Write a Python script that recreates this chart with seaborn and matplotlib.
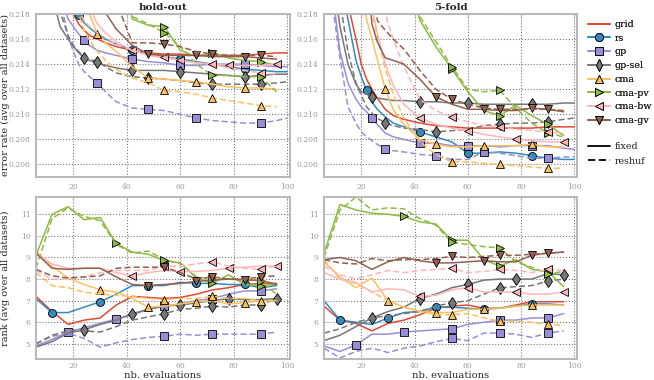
import numpy as np
import pandas as pd
import matplotlib
matplotlib.use("Agg")
import matplotlib.pyplot as plt
from matplotlib.lines import Line2D
import seaborn as sns

nan = np.nan
# ---------------- data ----------------
methods = ["grid", "rs", "gp", "gp-sel", "cma", "cma-pv", "cma-bw", "cma-gv"]
colors = ["#E24A33", "#348ABD", "#988ED5", "#777777", "#FBC15E", "#8EBA42", "#FFB5B8", "#93604F"]
marker_shapes = [None, "o", "s", "d", "^", ">", "<", "v"]

x_err = [6, 9, 12, 15, 18, 20, 22, 24, 26, 29, 32, 36, 42, 48, 54, 60, 66, 72, 78, 84, 90, 96, 100]
x_rank = [6, 12, 18, 24, 30, 36, 42, 48, 54, 60, 66, 72, 78, 84, 90, 96]

# hold-out error rate
ho_err_grid = [0.240, 0.232, 0.226, 0.222, 0.2195, 0.2180, 0.2172, 0.2167, 0.2163, 0.2160, 0.2157, 0.2154, 0.2151, 0.2149, 0.2148, 0.2148, 0.2147, 0.2147, 0.2147, 0.2147, 0.2148, 0.2149, 0.2149]
ho_err_rs = [0.235, 0.228, 0.224, 0.2215, 0.2195, 0.2186, 0.2179, 0.2173, 0.2169, 0.2164, 0.2160, 0.2156, 0.2151, 0.2148, 0.2146, 0.2144, 0.2142, 0.2140, 0.2138, 0.2136, 0.2135, 0.2134, 0.2134]
ho_err_gp = [0.232, 0.227, 0.2225, 0.2195, 0.2176, 0.2170, 0.2164, 0.2159, 0.2155, 0.2151, 0.2149, 0.2147, 0.2144, 0.2142, 0.2141, 0.2139, 0.2139, 0.2140, 0.2140, 0.2140, 0.2139, 0.2138, 0.2138]
ho_err_gp_r = [0.236, 0.230, 0.2255, 0.2192, 0.2162, 0.2150, 0.2140, 0.2134, 0.2130, 0.2125, 0.2118, 0.2110, 0.2105, 0.2104, 0.2103, 0.2100, 0.2097, 0.2095, 0.2094, 0.2093, 0.2093, 0.2095, 0.2097]
ho_err_gpsel = [0.228, 0.2235, 0.2195, 0.2170, 0.2160, 0.2154, 0.2149, 0.2145, 0.2143, 0.2141, 0.2139, 0.2137, 0.2135, 0.2135, 0.2135, 0.2134, 0.2133, 0.2132, 0.2131, 0.2130, 0.2131, 0.2132, 0.2132]
ho_err_gpsel_r = [0.230, 0.225, 0.2205, 0.2182, 0.2163, 0.2155, 0.2150, 0.2146, 0.2144, 0.2142, 0.2138, 0.2133, 0.2130, 0.2129, 0.2128, 0.2127, 0.2125, 0.2124, 0.2124, 0.2124, 0.2124, 0.2125, 0.2126]
ho_err_cma = [0.250, 0.245, 0.240, 0.235, 0.230, 0.226, 0.2225, 0.2200, 0.2180, 0.2164, 0.2157, 0.2150, 0.2138, 0.2129, 0.2128, 0.2127, 0.2126, 0.2124, 0.2122, 0.2121, 0.2121, 0.2120, nan]
ho_err_cma_r = [0.245, 0.240, 0.235, 0.230, 0.225, 0.2205, 0.2180, 0.2167, 0.2159, 0.2150, 0.2143, 0.2136, 0.2129, 0.2125, 0.2119, 0.2118, 0.2116, 0.2113, 0.2111, 0.2109, 0.2107, 0.2106, nan]
ho_err_cmapv = [0.260, 0.258, 0.256, 0.254, 0.252, 0.250, 0.248, 0.246, 0.244, 0.240, 0.236, 0.2235, 0.2176, 0.2171, 0.2170, 0.2151, 0.2146, 0.2149, 0.2145, 0.2143, 0.2142, 0.2139, nan]
ho_err_cmapv_r = [0.260, 0.258, 0.256, 0.254, 0.252, 0.250, 0.248, 0.246, 0.244, 0.240, 0.236, 0.2230, 0.2178, 0.2172, 0.2165, 0.2154, 0.2140, 0.2131, 0.2131, 0.2130, 0.2130, 0.2118, nan]
ho_err_cmabw = [0.245, 0.240, 0.236, 0.232, 0.228, 0.226, 0.224, 0.221, 0.2185, 0.2172, 0.2165, 0.2158, 0.2151, 0.2147, 0.2145, 0.2143, 0.2141, 0.2140, 0.2139, 0.2139, 0.2139, 0.2140, nan]
ho_err_cmabw_r = [0.240, 0.235, 0.230, 0.226, 0.222, 0.2195, 0.2182, 0.2175, 0.2170, 0.2165, 0.2161, 0.2156, 0.2151, 0.2148, 0.2146, 0.2143, 0.2141, 0.2140, 0.2137, 0.2135, 0.2133, 0.2132, nan]
ho_err_cmagv = [0.255, 0.250, 0.245, 0.240, 0.235, 0.232, 0.229, 0.226, 0.223, 0.2195, 0.2181, 0.2168, 0.2155, 0.2148, 0.2147, 0.2147, 0.2147, 0.2146, 0.2146, 0.2146, 0.2145, 0.2144, nan]
ho_err_cmagv_r = [0.258, 0.253, 0.248, 0.243, 0.238, 0.235, 0.232, 0.229, 0.226, 0.2225, 0.2205, 0.2190, 0.2157, 0.2157, 0.2156, 0.2154, 0.2150, 0.2148, 0.2147, 0.2147, 0.2147, 0.2146, nan]

# 5-fold error rate
kf_err_grid = [0.235, 0.228, 0.222, 0.2188, 0.2160, 0.2140, 0.2128, 0.2120, 0.2113, 0.2104, 0.2099, 0.2096, 0.2093, 0.2091, 0.2090, 0.2089, 0.2089, 0.2089, 0.2089, 0.2089, 0.2090, 0.2090, 0.2090]
kf_err_rs = [0.232, 0.226, 0.2205, 0.2176, 0.2143, 0.2130, 0.2119, 0.2110, 0.2104, 0.2098, 0.2093, 0.2090, 0.2086, 0.2082, 0.2078, 0.2069, 0.2069, 0.2070, 0.2069, 0.2067, 0.2065, 0.2064, 0.2064]
kf_err_gp = [0.226, 0.2200, 0.2150, 0.2125, 0.2112, 0.2106, 0.2102, 0.2097, 0.2092, 0.2085, 0.2082, 0.2080, 0.2077, 0.2077, 0.2075, 0.2075, 0.2075, 0.2074, 0.2075, 0.2075, 0.2075, 0.2073, 0.2072]
kf_err_gp_r = [0.222, 0.2190, 0.2145, 0.2106, 0.2093, 0.2086, 0.2082, 0.2079, 0.2076, 0.2072, 0.2071, 0.2070, 0.2068, 0.2067, 0.2064, 0.2064, 0.2070, 0.2069, 0.2067, 0.2065, 0.2065, 0.2066, 0.2066]
kf_err_gpsel = [0.228, 0.2215, 0.2170, 0.2140, 0.2124, 0.2118, 0.2116, 0.2114, 0.2113, 0.2112, 0.2111, 0.2111, 0.2110, 0.2110, 0.2109, 0.2109, 0.2108, 0.2108, 0.2108, 0.2108, 0.2108, 0.2109, 0.2109]
kf_err_gpsel_r = [0.230, 0.2235, 0.2190, 0.2150, 0.2125, 0.2115, 0.2106, 0.2101, 0.2097, 0.2093, 0.2091, 0.2089, 0.2088, 0.2086, 0.2087, 0.2088, 0.2091, 0.2092, 0.2093, 0.2093, 0.2094, 0.2096, 0.2097]
kf_err_cma = [0.240, 0.235, 0.230, 0.2265, 0.222, 0.2195, 0.2176, 0.2160, 0.2144, 0.2120, 0.2104, 0.2092, 0.2080, 0.2076, 0.2074, 0.2074, 0.2075, 0.2075, 0.2075, 0.2076, 0.2074, 0.2074, nan]
kf_err_cma_r = [0.245, 0.240, 0.235, 0.230, 0.226, 0.2235, 0.2208, 0.2182, 0.2162, 0.2136, 0.2116, 0.2097, 0.2078, 0.2068, 0.2062, 0.2062, 0.2061, 0.2060, 0.2059, 0.2058, 0.2057, 0.2057, nan]
kf_err_cmapv = [0.260, 0.258, 0.256, 0.254, 0.252, 0.250, 0.248, 0.246, 0.244, 0.240, 0.234, 0.2220, 0.2175, 0.2154, 0.2136, 0.2118, 0.2103, 0.2099, 0.2107, 0.2099, 0.2092, 0.2083, nan]
kf_err_cmapv_r = [0.260, 0.258, 0.256, 0.254, 0.252, 0.250, 0.248, 0.246, 0.244, 0.240, 0.234, 0.2225, 0.2178, 0.2158, 0.2138, 0.2120, 0.2118, 0.2119, 0.2105, 0.2093, 0.2085, 0.2082, nan]
kf_err_cmabw = [0.255, 0.250, 0.245, 0.240, 0.235, 0.230, 0.2210, 0.2185, 0.2165, 0.2140, 0.2123, 0.2108, 0.2097, 0.2092, 0.2089, 0.2087, 0.2084, 0.2082, 0.2080, 0.2079, 0.2078, 0.2078, nan]
kf_err_cmabw_r = [0.258, 0.253, 0.248, 0.243, 0.238, 0.234, 0.230, 0.226, 0.2205, 0.2180, 0.2160, 0.2138, 0.2112, 0.2103, 0.2098, 0.2094, 0.2091, 0.2090, 0.2088, 0.2087, 0.2086, 0.2085, nan]
kf_err_cmagv = [0.262, 0.257, 0.252, 0.247, 0.242, 0.236, 0.2225, 0.2172, 0.2158, 0.2145, 0.2143, 0.2140, 0.2128, 0.2114, 0.2108, 0.2104, 0.2104, 0.2103, 0.2103, 0.2105, 0.2104, 0.2102, nan]
kf_err_cmagv_r = [0.265, 0.260, 0.255, 0.250, 0.245, 0.240, 0.234, 0.226, 0.2175, 0.2167, 0.2160, 0.2152, 0.2135, 0.2120, 0.2112, 0.2108, 0.2105, 0.2104, 0.2104, 0.2104, 0.2104, 0.2103, nan]

# hold-out rank
ho_rank_grid = [7.2, 6.5, 5.9, 6.1, 6.2, 6.8, 7.2, 7.15, 7.1, 7.15, 7.3, 7.5, 7.6, 7.75, 7.8, 7.8]
ho_rank_rs = [7.1, 6.45, 6.45, 6.7, 6.95, 7.3, 7.7, 7.7, 7.7, 7.85, 7.8, 7.8, 7.75, 7.75, 7.6, 7.7]
ho_rank_gp = [4.9, 5.2, 5.55, 5.75, 5.95, 6.15, 6.35, 6.6, 6.75, 6.85, 7.0, 7.1, 7.3, 7.45, 7.45, 7.55]
ho_rank_gp_r = [5.0, 5.35, 5.5, 5.25, 4.85, 5.05, 5.2, 5.3, 5.35, 5.45, 5.4, 5.45, 5.45, 5.45, 5.45, 5.55]
ho_rank_gpsel = [4.85, 5.1, 5.5, 5.65, 5.9, 6.1, 6.4, 6.6, 6.75, 6.8, 6.9, 7.0, 7.1, 7.05, 7.05, 7.1]
ho_rank_gpsel_r = [5.0, 5.4, 5.6, 5.6, 5.55, 5.8, 6.1, 6.25, 6.4, 6.6, 6.65, 6.75, 6.7, 6.8, 6.8, 7.1]
ho_rank_cma = [9.3, 8.6, 8.05, 7.75, 7.5, 7.4, 7.1, 6.7, 6.75, 6.85, 6.95, 7.0, 6.85, 6.9, 7.0, 7.0]
ho_rank_cma_r = [8.3, 7.7, 7.6, 7.4, 7.3, 7.25, 7.2, 7.1, 7.05, 7.1, 7.1, 7.2, 7.1, 7.1, 7.0, 7.0]
ho_rank_cmapv = [9.1, 11.0, 11.35, 10.75, 10.85, 9.65, 9.25, 9.15, 8.85, 8.75, 8.05, 7.8, 8.2, 7.75, 7.7, 7.75]
ho_rank_cmapv_r = [8.5, 10.8, 11.3, 10.9, 10.7, 9.6, 9.2, 9.3, 8.9, 8.7, 8.1, 8.0, 8.0, 8.0, 7.9, 7.3]
ho_rank_cmabw = [9.2, 8.7, 8.5, 8.5, 8.5, 8.3, 8.15, 8.3, 8.4, 8.35, 8.35, 8.4, 8.5, 8.55, 8.6, 8.6]
ho_rank_cmabw_r = [8.4, 8.0, 8.0, 8.1, 8.3, 8.4, 8.4, 8.4, 8.6, 8.6, 8.7, 8.8, 8.6, 8.5, 8.45, 8.6]
ho_rank_cmagv = [9.2, 8.5, 8.45, 8.5, 8.5, 8.1, 7.75, 7.7, 7.75, 7.8, 7.9, 7.95, 8.0, 7.95, 7.95, 7.75]
ho_rank_cmagv_r = [8.45, 8.15, 8.05, 8.1, 8.15, 8.5, 8.55, 8.55, 8.55, 8.3, 8.0, 8.1, 8.0, 8.0, 8.1, 8.15]

# 5-fold rank
kf_rank_grid = [6.75, 6.1, 5.95, 5.6, 5.95, 6.1, 6.35, 6.65, 6.75, 6.8, 6.65, 6.65, 6.8, 6.95, 6.95, 6.95]
kf_rank_rs = [7.0, 6.1, 6.0, 5.9, 6.2, 6.45, 6.5, 6.7, 6.7, 6.65, 6.6, 6.65, 6.75, 6.85, 6.85, 6.8]
kf_rank_gp = [4.9, 4.65, 4.95, 5.45, 5.45, 5.55, 5.6, 5.65, 5.7, 5.9, 6.0, 6.1, 6.1, 6.2, 6.2, 6.4]
kf_rank_gp_r = [4.8, 4.35, 4.65, 4.8, 4.6, 4.8, 4.9, 5.1, 5.25, 5.15, 5.5, 5.5, 5.45, 5.3, 5.5, 5.6]
kf_rank_gpsel = [5.15, 5.4, 5.8, 6.2, 6.5, 6.7, 7.1, 7.3, 7.6, 7.75, 7.95, 8.0, 8.0, 8.0, 8.25, 8.2]
kf_rank_gpsel_r = [5.5, 5.7, 6.0, 6.2, 6.3, 6.4, 6.5, 6.75, 6.9, 7.0, 7.3, 7.6, 7.65, 7.7, 7.9, 8.0]
kf_rank_cma = [8.8, 8.1, 7.6, 8.05, 7.0, 6.7, 6.5, 6.45, 6.45, 6.6, 6.6, 6.65, 6.75, 6.8, 6.8, 6.8]
kf_rank_cma_r = [8.9, 8.0, 7.8, 7.4, 7.0, 6.7, 6.5, 6.35, 6.35, 6.4, 6.2, 6.05, 6.05, 6.0, 5.9, 5.85]
kf_rank_cmapv = [9.2, 11.45, 11.2, 11.05, 11.0, 10.9, 10.65, 10.55, 9.8, 9.8, 8.9, 8.6, 8.9, 8.45, 8.35, 7.65]
kf_rank_cmapv_r = [9.0, 11.2, 11.8, 11.2, 11.3, 11.25, 10.8, 10.5, 9.7, 9.6, 9.5, 9.45, 8.8, 8.55, 8.25, 8.35]
kf_rank_cmabw = [8.3, 8.0, 7.85, 7.4, 7.55, 7.5, 7.2, 7.25, 7.5, 7.6, 7.4, 7.4, 7.4, 7.3, 7.3, 7.4]
kf_rank_cmabw_r = [8.6, 8.2, 8.0, 8.2, 8.4, 8.3, 8.4, 8.45, 8.5, 8.3, 8.35, 8.45, 8.4, 8.3, 8.45, 8.4]
kf_rank_cmagv = [8.9, 9.0, 8.85, 8.45, 8.8, 9.0, 8.85, 8.75, 8.75, 8.8, 8.85, 8.8, 8.8, 9.1, 9.2, 9.25]
kf_rank_cmagv_r = [8.9, 8.75, 8.7, 8.95, 8.85, 8.9, 8.9, 8.95, 9.05, 9.0, 9.05, 9.1, 9.1, 9.15, 9.2, 9.25]

# marker positions (indices in x arrays)
err_marks_fixed = [[], [6, 12, 15, 19], [7, 12, 15, 19], [7, 12, 15, 19], [9, 13, 16, 19], [14, 17, 20], [12, 15, 18, 21], [13, 16, 19]]
err_marks_reshuf = [[], [], [9, 13, 16, 20], [9, 13, 17, 20], [14, 17, 20], [14, 17, 20], [14, 17, 20], [14, 17, 20]]
rank_marks_fixed = [[], [1, 4, 7, 10, 13], [2, 5, 8, 11, 14], [3, 6, 9, 12, 15], [4, 7, 10, 13], [5, 8, 11, 14], [6, 9, 12, 15], [7, 10, 13]]
rank_marks_reshuf = [[], [], [8, 11, 14], [8, 11, 14], [8, 11, 14], [8, 11, 14], [8, 11, 14], [8, 11, 14]]

# ---------------- style ----------------
sns.set_style("white")
plt.rcParams["font.family"] = ["DejaVu Serif"]
plt.rcParams["axes.edgecolor"] = "#b8b8b8"
plt.rcParams["axes.linewidth"] = 1.4

fig = plt.figure(figsize=(6.54, 3.80), dpi=100)
W, H = 654.0, 380.0
def add_ax(l, t, r, b):
    return fig.add_axes([l / W, 1 - b / H, (r - l) / W, (b - t) / H])

ax_ho_err = add_ax(36, 14, 290, 177)
ax_kf_err = add_ax(324, 14, 577, 177)
ax_ho_rank = add_ax(36, 197, 290, 359)
ax_kf_rank = add_ax(324, 197, 577, 359)

DASH = (0, (4, 2))
MS = 5.8

def draw(ax, x, y, color, ls, marker, mk):
    xa = np.asarray(x, float)
    ya = np.asarray(y, float)
    m = ~np.isnan(ya)
    df = pd.DataFrame({"x": xa[m], "y": ya[m]})
    kw = dict(color=color, linestyle=ls, linewidth=1.1, estimator=None, sort=False, legend=False)
    if marker is not None and len(mk) > 0:
        kw.update(marker=marker, markevery=mk, markersize=MS if marker != "d" else MS + 0.8,
                  markerfacecolor=color, markeredgecolor="black", markeredgewidth=0.6)
    sns.lineplot(data=df, x="x", y="y", ax=ax, **kw)

panels = [
    (ax_ho_err, x_err,
     [ho_err_grid, ho_err_rs, ho_err_gp, ho_err_gpsel, ho_err_cma, ho_err_cmapv, ho_err_cmabw, ho_err_cmagv],
     [None, None, ho_err_gp_r, ho_err_gpsel_r, ho_err_cma_r, ho_err_cmapv_r, ho_err_cmabw_r, ho_err_cmagv_r],
     err_marks_fixed, err_marks_reshuf),
    (ax_kf_err, x_err,
     [kf_err_grid, kf_err_rs, kf_err_gp, kf_err_gpsel, kf_err_cma, kf_err_cmapv, kf_err_cmabw, kf_err_cmagv],
     [None, None, kf_err_gp_r, kf_err_gpsel_r, kf_err_cma_r, kf_err_cmapv_r, kf_err_cmabw_r, kf_err_cmagv_r],
     err_marks_fixed, err_marks_reshuf),
    (ax_ho_rank, x_rank,
     [ho_rank_grid, ho_rank_rs, ho_rank_gp, ho_rank_gpsel, ho_rank_cma, ho_rank_cmapv, ho_rank_cmabw, ho_rank_cmagv],
     [None, None, ho_rank_gp_r, ho_rank_gpsel_r, ho_rank_cma_r, ho_rank_cmapv_r, ho_rank_cmabw_r, ho_rank_cmagv_r],
     rank_marks_fixed, rank_marks_reshuf),
    (ax_kf_rank, x_rank,
     [kf_rank_grid, kf_rank_rs, kf_rank_gp, kf_rank_gpsel, kf_rank_cma, kf_rank_cmapv, kf_rank_cmabw, kf_rank_cmagv],
     [None, None, kf_rank_gp_r, kf_rank_gpsel_r, kf_rank_cma_r, kf_rank_cmapv_r, kf_rank_cmabw_r, kf_rank_cmagv_r],
     rank_marks_fixed, rank_marks_reshuf),
]

for ax, xs, fixed, reshuf, mf, mr in panels:
    for i in range(len(methods)):
        draw(ax, xs, fixed[i], colors[i], "-", marker_shapes[i], mf[i])
        if reshuf[i] is not None:
            draw(ax, xs, reshuf[i], colors[i], DASH, marker_shapes[i], mr[i])

for ax in [ax_ho_err, ax_kf_err, ax_ho_rank, ax_kf_rank]:
    ax.set_xlim(6, 101)
    ax.set_xticks([20, 40, 60, 80, 100])
    ax.grid(True, linestyle=":", color="#777777", linewidth=0.8)
    ax.set_axisbelow(True)
    ax.tick_params(labelsize=5.5, labelcolor="#9a9a9a", direction="in", length=2.5,
                   color="#b0b0b0", top=True, right=True, pad=4)
    ax.set_xlabel("")
    ax.set_ylabel("")

for ax in [ax_ho_err, ax_kf_err]:
    ax.set_ylim(0.205, 0.218)
    ax.set_yticks([0.206, 0.208, 0.210, 0.212, 0.214, 0.216, 0.218])
    ax.set_yticklabels(["0.206", "0.208", "0.210", "0.212", "0.214", "0.216", "0.218"])
for ax in [ax_ho_rank, ax_kf_rank]:
    ax.set_ylim(4.3, 11.8)
    ax.set_yticks([5, 6, 7, 8, 9, 10, 11])
    ax.tick_params(axis="x", pad=2.5)
    ax.set_xlabel("nb. evaluations", fontsize=7.2, labelpad=0.5)

ax_ho_err.set_title("hold-out", fontsize=7.5, fontweight="bold", pad=3)
ax_kf_err.set_title("5-fold", fontsize=7.5, fontweight="bold", pad=3)
ax_ho_err.set_ylabel("error rate (avg over all datasets)", fontsize=7)
ax_ho_err.yaxis.set_label_coords(-0.102, 0.5)
ax_ho_rank.set_ylabel("rank (avg over all datasets)", fontsize=7)
ax_ho_rank.yaxis.set_label_coords(-0.102, 0.5)

# legend
handles = []
for i, name in enumerate(methods):
    if marker_shapes[i] is None:
        handles.append(Line2D([], [], color=colors[i], lw=1.3))
    else:
        handles.append(Line2D([], [], color=colors[i], lw=1.3, marker=marker_shapes[i],
                              markersize=MS, markerfacecolor=colors[i],
                              markeredgecolor="black", markeredgewidth=0.6))
leg1 = fig.legend(handles, methods, loc="upper left", bbox_to_anchor=(588 / W, 1 - 20 / H),
                  frameon=False, fontsize=6.8, handlelength=2.3, handletextpad=0.5,
                  labelspacing=0.5, borderaxespad=0, borderpad=0)
style_handles = [Line2D([], [], color="black", lw=1.3, linestyle="-"),
                 Line2D([], [], color="black", lw=1.3, linestyle=DASH)]
fig.legend(style_handles, ["fixed", "reshuf"], loc="upper left",
           bbox_to_anchor=(588 / W, 1 - 142 / H), frameon=False, fontsize=6.8,
           handlelength=2.3, handletextpad=0.5, labelspacing=0.6, borderaxespad=0, borderpad=0)
fig.add_artist(leg1)

fig.savefig("out.png", dpi=100)
